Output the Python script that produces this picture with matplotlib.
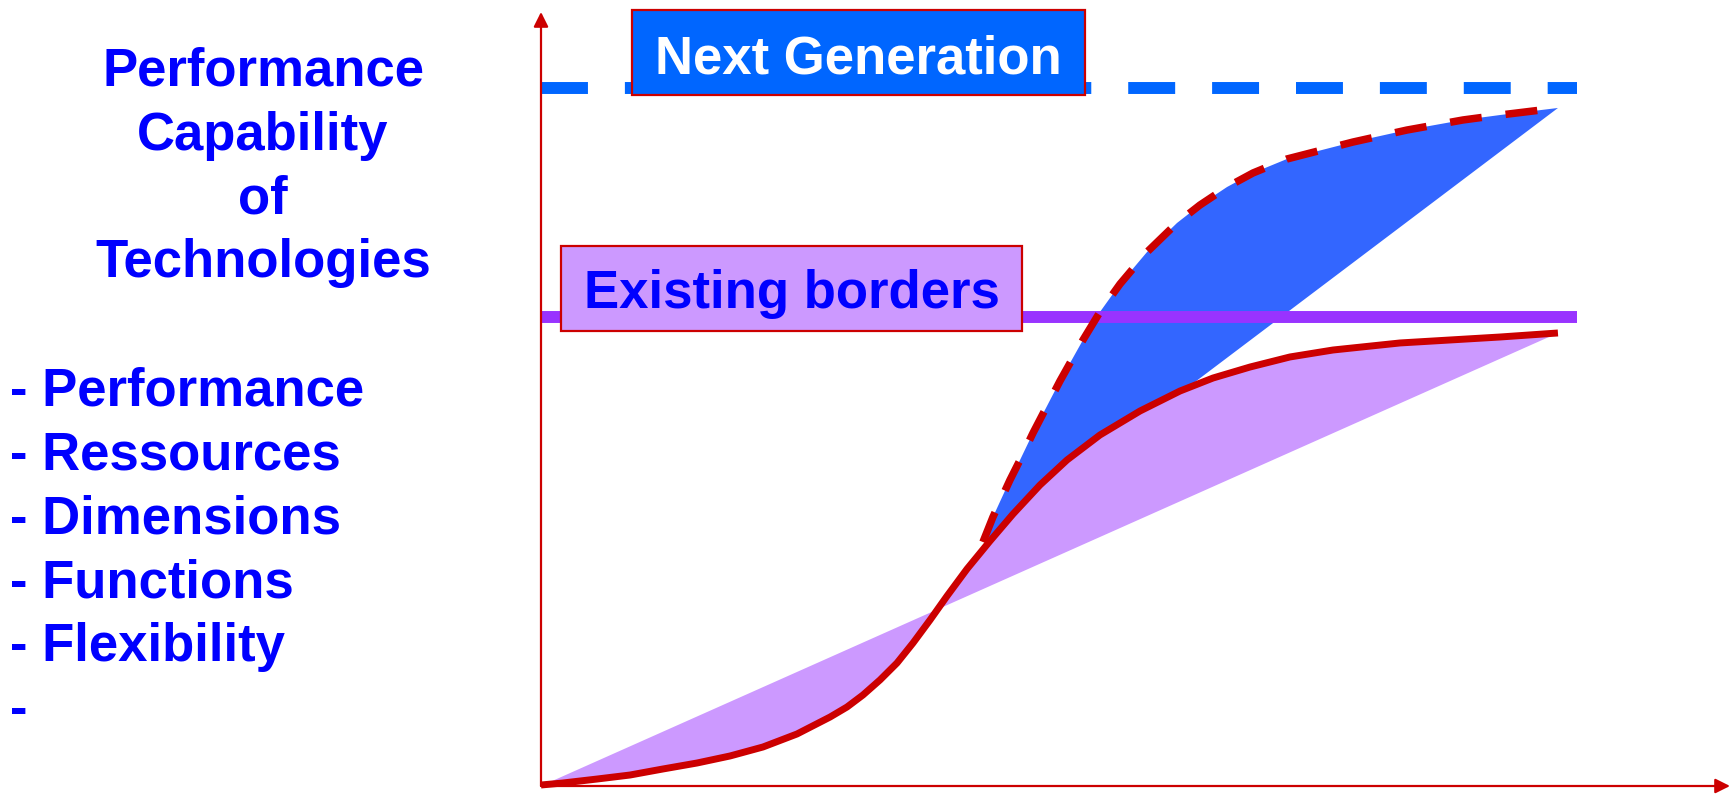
import matplotlib
matplotlib.use("Agg")
import matplotlib.pyplot as plt
from matplotlib.patches import Rectangle, Polygon

plt.rcParams['font.family'] = ['Liberation Sans', 'DejaVu Sans']
plt.rcParams['lines.scale_dashes'] = False

# existing technology S-curve (effort vs performance, 0..100 scale)
curve_x = [0.0, 1.85, 4.71, 7.49, 10.26, 13.12, 15.90, 18.67, 21.53, 24.31,
           25.74, 27.08, 28.51, 29.94, 31.29, 32.72, 34.15, 35.83, 37.76,
           39.70, 41.97, 44.24, 47.01, 50.38, 53.74, 56.52, 59.63, 62.99,
           66.61, 72.25, 80.66, 85.53]
curve_y = [0.13, 0.39, 0.90, 1.42, 2.20, 2.97, 3.88, 5.04, 6.72, 8.91,
           10.21, 11.76, 13.70, 15.89, 18.48, 21.45, 24.55, 28.04, 31.65,
           35.14, 38.89, 42.12, 45.35, 48.45, 51.03, 52.71, 54.13, 55.43,
           56.33, 57.24, 58.01, 58.53]

# next generation curve (dashed)
next_x = [37.17, 38.01, 39.44, 40.29, 41.38, 43.65, 45.58, 47.01, 48.70,
          50.97, 53.49, 55.42, 57.70, 59.88, 62.74, 68.29, 72.83, 77.54,
          80.66, 85.53]
next_y = [31.52, 34.75, 39.53, 42.12, 45.61, 52.33, 57.62, 61.24, 64.86,
          68.99, 72.74, 75.06, 77.39, 79.20, 81.01, 83.20, 84.75, 86.05,
          86.69, 87.60]

existing_level = 60.6
next_level = 90.2
level_end = 87.1

title_lines = ["Performance", "Capability", "of", "Technologies"]
items = ["Performance", "Ressources", "Dimensions", "Functions", "Flexibility", ""]

red = "#CC0000"
W, H = 1734, 796
fig = plt.figure(figsize=(W / 100, H / 100), dpi=100)

ax = fig.add_axes([541 / W, 10 / H, 1189 / W, 774 / H])
ax.set_xlim(0, 100)
ax.set_ylim(0, 100)
ax.axis("off")

# fills
ax.add_patch(Polygon(list(zip(next_x, next_y)), closed=True,
                     facecolor="#3366FF", edgecolor="none", zorder=1))
ax.add_patch(Polygon([(0, 0)] + list(zip(curve_x, curve_y)), closed=True,
                     facecolor="#CC99FF", edgecolor="none", zorder=2))

# borders
ax.plot([0, level_end], [next_level, next_level], color="#0066FF", lw=8.6,
        dashes=(33.8, 26.6), solid_capstyle="butt", zorder=3, clip_on=False)
ax.plot([0, level_end], [existing_level, existing_level], color="#9933FF",
        lw=8.6, solid_capstyle="butt", zorder=3, clip_on=False)

# curves
ax.plot(curve_x, curve_y, color=red, lw=5, solid_joinstyle="round",
        solid_capstyle="butt", zorder=4, clip_on=False)
ax.plot(next_x, next_y, color=red, lw=5.4, dashes=(23, 17.3),
        dash_joinstyle="round", zorder=4, clip_on=False)

# axis arrows
for end in [(1, 0), (0, 1)]:
    ax.annotate("", xy=end, xytext=(0, 0), xycoords="axes fraction",
                arrowprops=dict(arrowstyle="-|>", color=red, lw=1.6,
                                mutation_scale=22, shrinkA=0, shrinkB=0),
                zorder=5)

# text layer in pixel space
lay = fig.add_axes([0, 0, 1, 1])
lay.set_xlim(0, W)
lay.set_ylim(H, 0)
lay.axis("off")

fs = 38
for i, t in enumerate(title_lines):
    lay.text(263, 86 + i * 63.7, t, ha="center", va="baseline", fontsize=fs,
             fontweight="bold", color="#0000FF")
for i, t in enumerate(items):
    lay.text(10, 405 + i * 64, "- " + t, ha="left", va="baseline",
             fontsize=fs, fontweight="bold", color="#0000FF")

lay.add_patch(Rectangle((632, 10), 453, 85, facecolor="#0066FF",
                        edgecolor=red, lw=1.6, zorder=6))
lay.text(858, 73, "Next Generation", ha="center", va="baseline", fontsize=fs,
         fontweight="bold", color="white", zorder=7)
lay.add_patch(Rectangle((561, 246), 461, 85, facecolor="#CC99FF",
                        edgecolor=red, lw=1.6, zorder=6))
lay.text(792, 308, "Existing borders", ha="center", va="baseline",
         fontsize=fs, fontweight="bold", color="#0000FF", zorder=7)

fig.savefig("out.png", dpi=100)
